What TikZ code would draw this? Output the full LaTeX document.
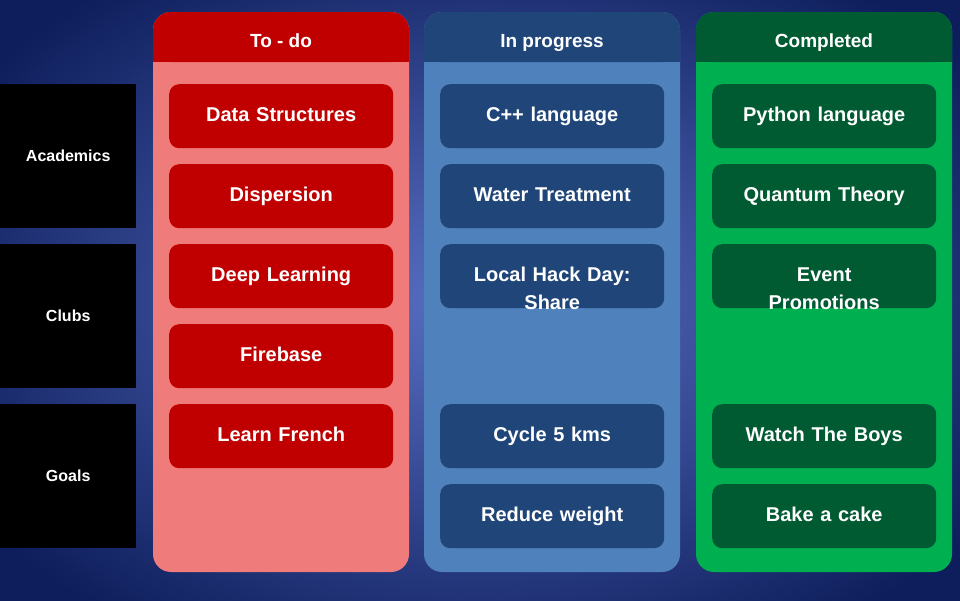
\documentclass[tikz,border=0pt]{standalone}
\usepackage{fontspec}
\setmainfont{Liberation Sans}
\usetikzlibrary{positioning}
\definecolor{bgin}{HTML}{5A70C4}
\definecolor{bgout}{HTML}{0E1E5C}
\definecolor{redhead}{HTML}{C00000}
\definecolor{redbody}{HTML}{F07B7B}
\definecolor{bluehead}{HTML}{1F4579}
\definecolor{bluebody}{HTML}{4F81BD}
\definecolor{greenhead}{HTML}{005A32}
\definecolor{greenbody}{HTML}{00B050}
\tikzset{
  card/.style={rounded corners=10pt,minimum width=224pt,minimum height=64pt,
    text width=210pt,align=center,text=white,font=\fontsize{20}{27}\selectfont\bfseries,
    text height=15pt,text depth=4pt,inner sep=0pt,anchor=north west},
  rowlabel/.style={fill=black,minimum width=136pt,minimum height=144pt,anchor=north west,
    text=white,font=\fontsize{16}{20}\selectfont\bfseries,inner sep=0pt},
  head/.style={text=white,font=\fontsize{19}{23}\selectfont\bfseries,
    text height=14pt,text depth=4pt}
}
\begin{document}
\begin{tikzpicture}[x=1pt,y=-1pt]
  \useasboundingbox (0,0) rectangle (960,600);
  \shade[inner color=bgin,outer color=bgout] (-120,-100) rectangle (1080,700);
  % columns
  \foreach \x/\hc/\bc/\t in {153/redhead/redbody/To - do,424/bluehead/bluebody/In progress,696/greenhead/greenbody/Completed}{
    \fill[\bc,rounded corners=18pt] (\x,12) rectangle ++(256,560);
    \fill[\hc,rounded corners=18pt] (\x,12) rectangle ++(256,50);
    \fill[\hc] (\x,40) rectangle ++(256,22);
    \node[head] at (\x+128,42) {\t};
  }
  % row labels
  \node[rowlabel] (academics) at (0,84) {Academics};
  \node[rowlabel] (clubs) at (0,244) {Clubs};
  \node[rowlabel] (goals) at (0,404) {Goals};
  % to-do
  \node[card,fill=redhead] (t1) at (169,84) {Data Structures};
  \node[card,fill=redhead] (t2) at (169,164) {Dispersion};
  \node[card,fill=redhead] (t3) at (169,244) {Deep Learning};
  \node[card,fill=redhead] (t4) at (169,324) {Firebase};
  \node[card,fill=redhead] (t5) at (169,404) {Learn French};
  % in progress
  \node[card,fill=bluehead] (p1) at (440,84) {C++ language};
  \node[card,fill=bluehead] (p2) at (440,164) {Water Treatment};
  \node[card,fill=bluehead,font=\fontsize{20}{28}\selectfont\bfseries] (p3) at (440,244) {Local Hack Day:\\Share};
  \node[card,fill=bluehead] (p4) at (440,404) {Cycle 5 kms};
  \node[card,fill=bluehead] (p5) at (440,484) {Reduce weight};
  % completed
  \node[card,fill=greenhead] (c1) at (712,84) {Python language};
  \node[card,fill=greenhead] (c2) at (712,164) {Quantum Theory};
  \node[card,fill=greenhead,font=\fontsize{20}{28}\selectfont\bfseries] (c3) at (712,244) {Event\\Promotions};
  \node[card,fill=greenhead] (c4) at (712,404) {Watch The Boys};
  \node[card,fill=greenhead] (c5) at (712,484) {Bake a cake};
\end{tikzpicture}
\end{document}
